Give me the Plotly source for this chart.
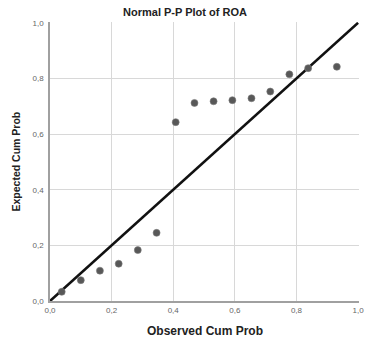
import plotly.graph_objects as go

# Observed vs. expected cumulative probabilities for ROA
observed_cum_prob = [0.038, 0.100, 0.162, 0.223, 0.285, 0.346, 0.408, 0.469,
                     0.531, 0.592, 0.654, 0.715, 0.777, 0.838, 0.931]
expected_cum_prob = [0.033, 0.075, 0.109, 0.134, 0.183, 0.245, 0.643, 0.712,
                     0.718, 0.722, 0.729, 0.753, 0.815, 0.837, 0.842]

# Reference line (expected = observed)
ref_x = [0.0, 1.0]
ref_y = [0.0, 1.0]

tick_vals = [0.0, 0.2, 0.4, 0.6, 0.8, 1.0]
tick_text = ["0,0", "0,2", "0,4", "0,6", "0,8", "1,0"]

FONT = "Liberation Sans, Arial, sans-serif"

fig = go.Figure()
fig.add_trace(go.Scatter(
    x=ref_x, y=ref_y, mode="lines",
    line=dict(color="#111111", width=2.6),
    hoverinfo="skip", showlegend=False, cliponaxis=False,
))
fig.add_trace(go.Scatter(
    x=observed_cum_prob, y=expected_cum_prob, mode="markers",
    marker=dict(size=7, color="#585858", line=dict(color="#7a7a7a", width=0.6)),
    showlegend=False, cliponaxis=False,
))

# Range slightly past 1 so the gridline at 1,0 closes the frame
axis_common = dict(
    range=[0, 1.003],
    tickvals=tick_vals,
    ticktext=tick_text,
    showgrid=True,
    gridcolor="#d8d8d8",
    gridwidth=1,
    showline=True,
    linecolor="#a0a0a0",
    linewidth=1.6,
    zeroline=False,
    ticks="",
    tickfont=dict(family=FONT, size=8, color="#666666"),
    fixedrange=True,
)

fig.update_layout(
    width=372, height=343,
    margin=dict(l=50, r=8, t=22, b=42),
    paper_bgcolor="white",
    plot_bgcolor="white",
    font=dict(family=FONT),
    title=dict(
        text="<b>Normal P-P Plot of ROA</b>",
        font=dict(family=FONT, size=11, color="#222222"),
        x=185 / 372, xref="container", xanchor="center",
        y=1 - 12 / 343, yref="container", yanchor="middle",
    ),
    xaxis=dict(**axis_common, ticklabelstandoff=1),
    yaxis=dict(**axis_common, ticklabelstandoff=3),
    annotations=[
        dict(text="<b>Observed Cum Prob</b>", x=0.5, y=0, xref="paper", yref="paper",
             xanchor="center", yanchor="middle", yshift=-30, showarrow=False,
             font=dict(family=FONT, size=12, color="#222222")),
        dict(text="<b>Expected Cum Prob</b>", x=0, y=0.5, xref="paper", yref="paper",
             xanchor="center", yanchor="middle", xshift=-35, textangle=-90,
             showarrow=False, font=dict(family=FONT, size=10.5, color="#222222")),
    ],
)

fig.write_html("out.html")
